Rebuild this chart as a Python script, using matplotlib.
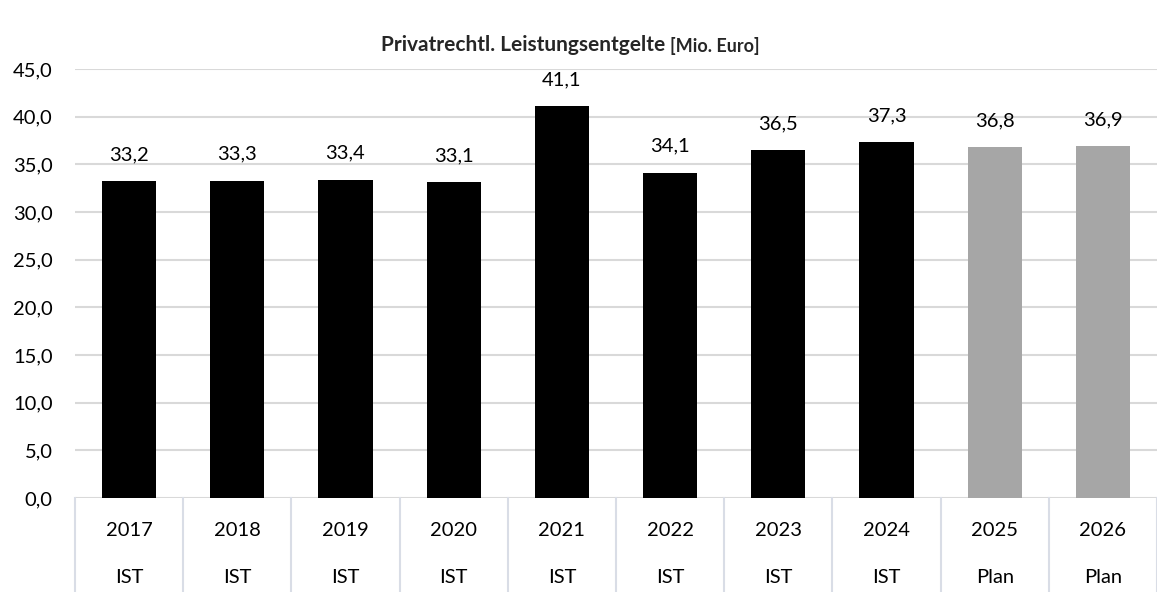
import matplotlib
matplotlib.use('Agg')
import matplotlib.pyplot as plt
import matplotlib.transforms as mtransforms
from matplotlib.ticker import FuncFormatter

#==============================================================================
# Data
#==============================================================================

years = ['2017', '2018', '2019', '2020', '2021', '2022', '2023', '2024',
         '2025', '2026']
status = ['IST', 'IST', 'IST', 'IST', 'IST', 'IST', 'IST', 'IST',
          'Plan', 'Plan']
values = [33.2, 33.3, 33.4, 33.1, 41.1, 34.1, 36.5, 37.3, 36.8, 36.9]

plt.rcParams['font.family'] = ['Lato', 'DejaVu Sans']

#==============================================================================
# Plot
#==============================================================================

fig = plt.figure(figsize=(11.57, 5.92), dpi=100)
ax = fig.add_axes([75/1157, 1-498/592, 1082/1157, (498-69)/592])

colors = ['#000000' if s == 'IST' else '#a6a6a6' for s in status]
xs = list(range(len(years)))
bars = ax.bar(xs, values, width=0.5, color=colors, zorder=3)

for x, v in zip(xs, values):
    ax.annotate('{:.1f}'.format(v).replace('.', ','), (x, v),
                xytext=(0, 13), textcoords='offset points',
                ha='center', va='bottom', fontsize=14.5, color='#000000')

ax.set_xlim(-0.5, len(years) - 0.5)
ax.set_ylim(0, 45)
ax.set_yticks(range(0, 46, 5))
ax.yaxis.set_major_formatter(
    FuncFormatter(lambda v, p: '{:.1f}'.format(v).replace('.', ',')))
ax.tick_params(axis='y', length=0, pad=16, labelsize=14.5)
ax.set_xticks([])
ax.grid(axis='y', color='#d9d9d9', linewidth=1.5, zorder=0)
for s in ax.spines.values():
    s.set_visible(False)

# category axis with separators
trans = mtransforms.blended_transform_factory(ax.transData, ax.transAxes)
for i in range(len(years) + 1):
    ax.plot([i - 0.5, i - 0.5], [0, -0.25], transform=trans,
            color='#d9dde6', linewidth=1.5, clip_on=False)
for x, y, s in zip(xs, years, status):
    ax.text(x, -0.075, y, transform=trans, ha='center', va='center',
            fontsize=14.5)
    ax.text(x, -0.185, s, transform=trans, ha='center', va='center',
            fontsize=14.5)

fig.text(665/1157, 1-45/592, 'Privatrechtl. Leistungsentgelte', ha='right',
         va='center', fontsize=15, fontweight='bold', color='#262626')
fig.text(670/1157, 1-46/592, '[Mio. Euro]', ha='left', va='center',
         fontsize=13, fontweight='bold', color='#262626')

fig.savefig('out.png', dpi=100)
